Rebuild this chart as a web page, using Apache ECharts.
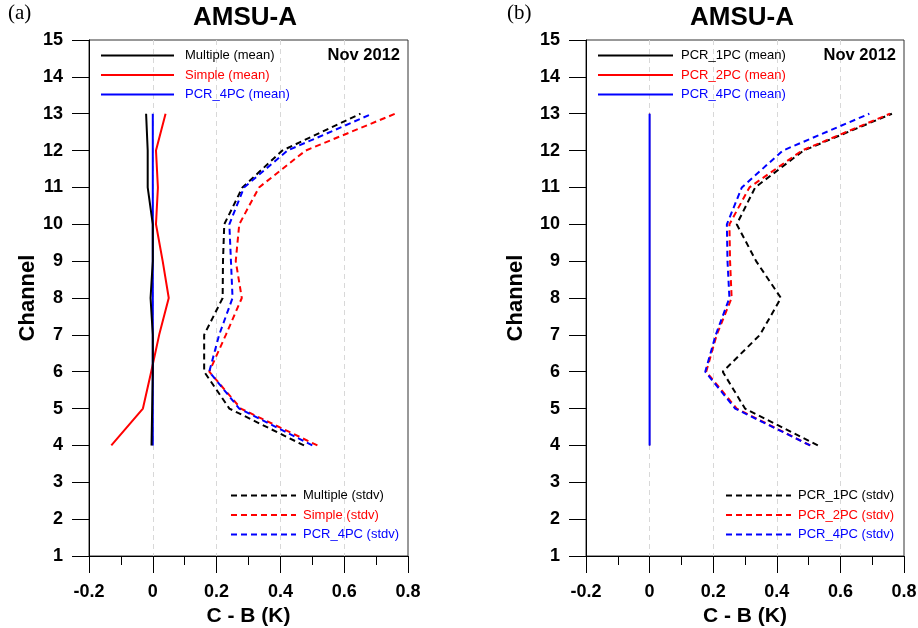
<!DOCTYPE html>
<html>
<head>
<meta charset="utf-8">
<script src="https://cdn.jsdelivr.net/npm/echarts@6/dist/echarts.min.js"></script>
<style>
  html, body { margin: 0; padding: 0; background: #fff; }
  #chart { width: 918px; height: 628px; }
</style>
</head>
<body>
<div id="chart"></div>
<script>
const channels = [4, 5, 6, 7, 8, 9, 10, 11, 12, 13];

// panel (a)
const multipleMean = [-0.004, -0.002, 0, 0, -0.007, 0, 0, -0.016, -0.016, -0.021];
const simpleMean = [-0.13, -0.031, -0.005, 0.02, 0.05, 0.031, 0.01, 0.016, 0.01, 0.04];
const pcr4MeanA = [0, 0, 0, 0, 0, 0, 0, 0, 0, 0];
const multipleStdv = [0.474, 0.24, 0.161, 0.161, 0.219, 0.22, 0.224, 0.281, 0.406, 0.651];
const simpleStdv = [0.516, 0.276, 0.177, 0.229, 0.279, 0.26, 0.271, 0.333, 0.479, 0.76];
const pcr4StdvA = [0.5, 0.271, 0.177, 0.208, 0.25, 0.245, 0.24, 0.286, 0.422, 0.688];

// panel (b)
const pcr1Mean = [0, 0, 0, 0, 0, 0, 0, 0, 0, 0];
const pcr2Mean = [0, 0, 0, 0, 0, 0, 0, 0, 0, 0];
const pcr4MeanB = [0, 0, 0, 0, 0, 0, 0, 0, 0, 0];
const pcr1Stdv = [0.529, 0.3, 0.23, 0.347, 0.413, 0.335, 0.274, 0.332, 0.484, 0.762];
const pcr2Stdv = [0.505, 0.274, 0.178, 0.211, 0.258, 0.253, 0.251, 0.314, 0.479, 0.756];
const pcr4StdvB = [0.505, 0.269, 0.175, 0.208, 0.251, 0.245, 0.243, 0.29, 0.419, 0.691];

const xTicks = [-0.2, 0, 0.2, 0.4, 0.6, 0.8];

const pairs = (vals) => vals.map((v, i) => [v, channels[i]]);

const line = (name, vals, color, dashed, idx, width) => ({
  name,
  type: 'line',
  xAxisIndex: idx,
  yAxisIndex: idx,
  data: pairs(vals),
  symbol: 'none',
  showSymbol: false,
  silent: true,
  lineStyle: { color, width: width || 2, type: dashed ? [6, 4] : 'solid' },
  itemStyle: { color },
});

const xAxis = (idx) => ({
  type: 'value',
  gridIndex: idx,
  min: -0.2,
  max: 0.8,
  interval: 0.2,
  name: 'C - B (K)',
  nameLocation: 'middle',
  nameGap: 48,
  nameTextStyle: { fontFamily: 'Liberation Sans', fontWeight: 'bold', fontSize: 21, color: '#000' },
  axisLine: { onZero: false, lineStyle: { color: '#000', width: 1 } },
  axisTick: { show: true, inside: false, length: 17, lineStyle: { color: '#000' } },
  minorTick: { show: true, splitNumber: 2, length: 9, lineStyle: { color: '#000' } },
  axisLabel: {
    margin: 27,
    fontFamily: 'Liberation Sans',
    fontWeight: 'bold',
    fontSize: 18,
    color: '#000',
    formatter: (v) => {
      const t = xTicks.find((k) => Math.abs(k - v) < 1e-6);
      return t === undefined ? '' : String(t);
    },
  },
  splitLine: {
    show: true,
    showMinLine: false,
    showMaxLine: false,
    lineStyle: { color: '#d8d8d8', type: [5, 4], width: 1 },
  },
});

const yAxis = (idx, gap) => ({
  type: 'value',
  gridIndex: idx,
  min: 1,
  max: 15,
  interval: 1,
  name: 'Channel',
  nameLocation: 'middle',
  nameGap: gap,
  nameRotate: 90,
  nameTextStyle: { fontFamily: 'Liberation Sans', fontWeight: 'bold', fontSize: 22, color: '#000' },
  axisLine: { onZero: false, lineStyle: { color: '#000', width: 1 } },
  axisTick: { show: true, inside: false, length: 17, lineStyle: { color: '#000' } },
  axisLabel: { margin: 26, fontFamily: 'Liberation Sans', fontWeight: 'bold', fontSize: 18, color: '#000' },
  splitLine: { show: false },
});

const legend = (names, colors, left, top, itemWidth, pad) => ({
  orient: 'vertical',
  left,
  top,
  padding: 0,
  itemWidth,
  itemHeight: 14,
  itemGap: 6.5,
  selectedMode: false,
  itemStyle: { opacity: 0 },
  textStyle: { fontFamily: 'Liberation Sans', fontSize: 13, padding: [0, 0, 0, pad] },
  data: names.map((n, i) => ({ name: n, textStyle: { color: colors[i] } })),
});

const titleText = { fontFamily: 'Liberation Sans', fontWeight: 'bold', fontSize: 26, color: '#000' };
const tagText = { fontFamily: 'Liberation Serif', fontWeight: 'normal', fontSize: 21, color: '#000' };
const dateText = { fontFamily: 'Liberation Sans', fontWeight: 'bold', fontSize: 16.5, color: '#000' };

const chart = echarts.init(document.getElementById('chart'));
chart.setOption({
  animation: false,
  backgroundColor: '#fff',
  title: [
    { text: 'AMSU-A', left: 245, top: 5, textAlign: 'center', padding: 0, textStyle: titleText },
    { text: 'AMSU-A', left: 742, top: 5, textAlign: 'center', padding: 0, textStyle: titleText },
    { text: '(a)', left: 8, top: 3, padding: 0, textStyle: tagText },
    { text: '(b)', left: 507, top: 3, padding: 0, textStyle: tagText },
    { text: 'Nov 2012', right: 518, top: 47, padding: 0, textStyle: dateText },
    { text: 'Nov 2012', right: 22, top: 47, padding: 0, textStyle: dateText },
  ],
  legend: [
    legend(['Multiple (mean)', 'Simple (mean)', 'PCR_4PC (mean)'], ['#000', '#f00', '#00f'], 100, 49, 73, 6),
    legend(['Multiple (stdv)', 'Simple (stdv)', 'PCR_4PC (stdv)'], ['#000', '#f00', '#00f'], 230, 489, 65, 2),
    legend(['PCR_1PC (mean)', 'PCR_2PC (mean)', 'PCR_4PC (mean)'], ['#000', '#f00', '#00f'], 597, 49, 75, 3),
    legend(['PCR_1PC (stdv)', 'PCR_2PC (stdv)', 'PCR_4PC (stdv)'], ['#000', '#f00', '#00f'], 725, 489, 65, 2),
  ],
  grid: [
    { left: 89, top: 40, width: 319, height: 516, outerBoundsMode: 'none', containLabel: false,
      show: true, borderColor: '#333', borderWidth: 1 },
    { left: 586, top: 40, width: 318, height: 516, outerBoundsMode: 'none', containLabel: false,
      show: true, borderColor: '#333', borderWidth: 1 },
  ],
  xAxis: [xAxis(0), xAxis(1)],
  yAxis: [yAxis(0, 49), yAxis(1, 59)],
  series: [
    line('Multiple (stdv)', multipleStdv, '#000', true, 0),
    line('Simple (stdv)', simpleStdv, '#f00', true, 0),
    line('PCR_4PC (stdv)', pcr4StdvA, '#00f', true, 0),
    line('Simple (mean)', simpleMean, '#f00', false, 0),
    line('PCR_4PC (mean)', pcr4MeanA, '#00f', false, 0),
    line('Multiple (mean)', multipleMean, '#000', false, 0),
    line('PCR_1PC (stdv)', pcr1Stdv, '#000', true, 1),
    line('PCR_2PC (stdv)', pcr2Stdv, '#f00', true, 1),
    line('PCR_4PC (stdv)', pcr4StdvB, '#00f', true, 1),
    line('PCR_1PC (mean)', pcr1Mean, '#000', false, 1, 1),
    line('PCR_2PC (mean)', pcr2Mean, '#f00', false, 1, 1),
    line('PCR_4PC (mean)', pcr4MeanB, '#00f', false, 1),
  ],
});
</script>
</body>
</html>
